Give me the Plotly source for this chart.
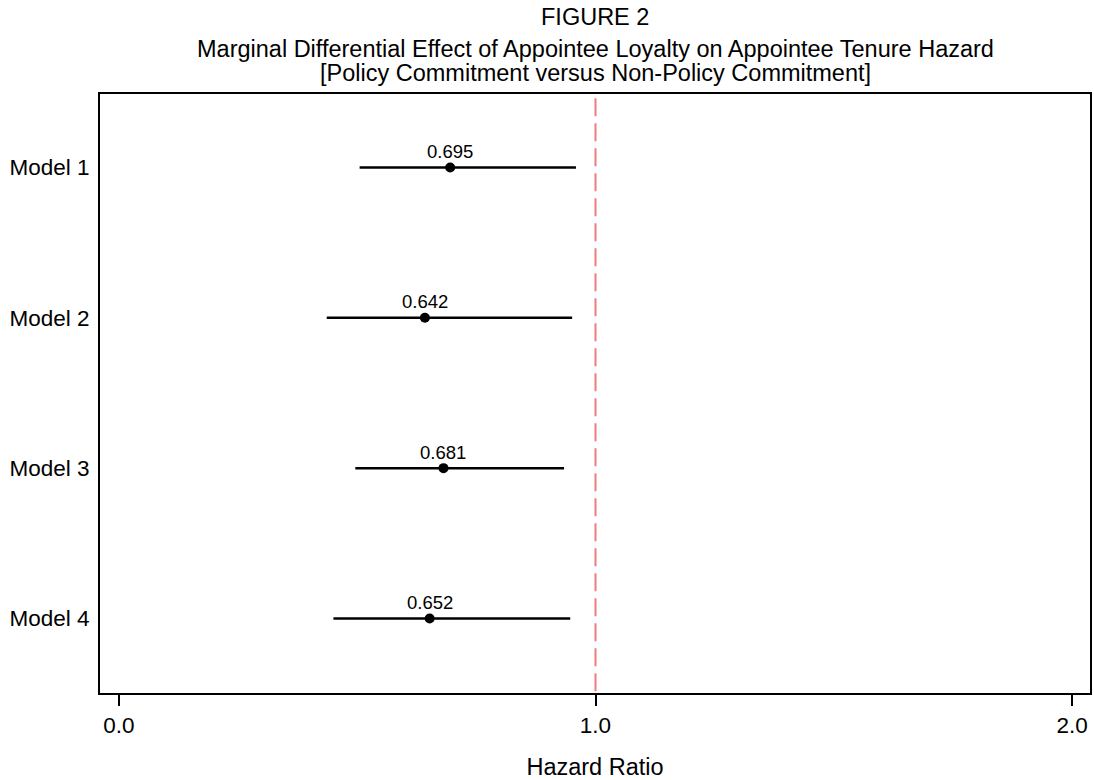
import plotly.graph_objects as go

models = ["Model 1", "Model 2", "Model 3", "Model 4"]
estimates = [0.695, 0.642, 0.681, 0.652]
ci_low = [0.505, 0.436, 0.496, 0.450]
ci_high = [0.959, 0.951, 0.934, 0.947]
positions = [1, 2, 3, 4]
x_ticks = [0.0, 1.0, 2.0]
x_tick_labels = ["0.0", "1.0", "2.0"]
reference_value = 1.0

FONT = "Liberation Sans, Arial, sans-serif"

fig = go.Figure()

fig.add_shape(type="line", xref="x", yref="paper", x0=reference_value, x1=reference_value,
              y0=0.993, y1=0, line=dict(color="rgba(232,70,70,0.7)", width=2, dash="18px,7px"),
              layer="below")

fig.add_trace(go.Scatter(
    x=estimates, y=positions, mode="markers",
    marker=dict(color="black", size=10),
    error_x=dict(type="data", symmetric=False,
                 array=[h - e for h, e in zip(ci_high, estimates)],
                 arrayminus=[e - l for e, l in zip(estimates, ci_low)],
                 color="black", thickness=2.5, width=0),
    showlegend=False, hoverinfo="skip"))

for e, p in zip(estimates, positions):
    fig.add_annotation(x=e, y=p, text=f"{e:.3f}", showarrow=False, yshift=16, yanchor="middle",
                       font=dict(family=FONT, size=18.5, color="black"))

fig.add_annotation(xref="paper", yref="paper", x=0.5, y=1, yshift=77, yanchor="middle",
                   text="FIGURE 2",
                   showarrow=False, font=dict(family=FONT, size=23.5, color="black"))
fig.add_annotation(xref="paper", yref="paper", x=0.5, y=1, yshift=45, yanchor="middle",
                   text="Marginal Differential Effect of Appointee Loyalty on Appointee Tenure Hazard",
                   showarrow=False, font=dict(family=FONT, size=23.5, color="black"))
fig.add_annotation(xref="paper", yref="paper", x=0.5, y=1, yshift=21, yanchor="middle",
                   text="[Policy Commitment versus Non-Policy Commitment]",
                   showarrow=False, font=dict(family=FONT, size=23.5, color="black"))

fig.update_layout(
    width=1094, height=780,
    margin=dict(l=100, r=2, t=94, b=84),
    paper_bgcolor="white", plot_bgcolor="white",
    font=dict(family=FONT, color="black"),
)
fig.update_xaxes(range=[-0.0398, 2.0377], tickvals=x_ticks, ticktext=x_tick_labels,
                 ticks="outside", ticklen=11, tickwidth=1.5, tickcolor="black",
                 tickfont=dict(family=FONT, size=22.5, color="black"),
                 showline=True, linecolor="black", linewidth=2, mirror=True,
                 showgrid=False, zeroline=False,
                 title=dict(text="Hazard Ratio", font=dict(family=FONT, size=23.5, color="black"), standoff=24))
fig.update_yaxes(range=[4.496, 0.511], tickvals=positions, ticktext=models,
                 ticks="", ticklabelstandoff=4,
                 tickfont=dict(family=FONT, size=22.5, color="black"),
                 showline=True, linecolor="black", linewidth=2, mirror=True,
                 showgrid=False, zeroline=False)

fig.write_html("out.html")
